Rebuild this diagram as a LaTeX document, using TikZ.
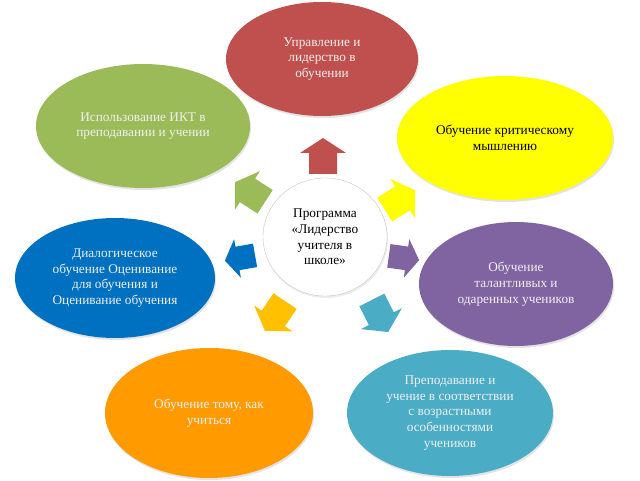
\documentclass[tikz,border=0pt]{standalone}
\usepackage{fontspec}
\setmainfont{Liberation Serif}
\usetikzlibrary{shapes.geometric,shadows}
\definecolor{leadred}{HTML}{C0504D}
\definecolor{ictgreen}{HTML}{9BBB59}
\definecolor{crityellow}{HTML}{FFFF00}
\definecolor{dialogblue}{HTML}{0070C0}
\definecolor{giftpurple}{HTML}{8064A2}
\definecolor{learnorange}{HTML}{FF9A00}
\definecolor{learngold}{HTML}{FFC000}
\definecolor{ageteal}{HTML}{4BACC6}
\tikzset{
    topic font/.style={font=\fontsize{13.3}{15.8}\selectfont},
    topic ellipse/.style={
        ellipse,
        inner sep=0pt,
        outer sep=0pt,
        align=center,
        text=white!94!black,
        topic font,
        drop shadow={opacity=.22,shadow xshift=1pt,shadow yshift=-2pt}
    },
    hub circle/.style={
        ellipse,
        draw=black!22,
        fill=white,
        inner sep=0pt,
        align=center,
        topic font,
        minimum width=124pt,
        minimum height=118pt,
        drop shadow={opacity=.15,shadow xshift=1pt,shadow yshift=-2pt}
    },
    pics/block arrow/.style={
        code={\fill[#1](-18,-14)--(3,-14)--(3,-23)--(18,0)--(3,23)--(3,14)
            --(-18,14)--cycle;}
    }
}
% #1 name, #2 centre, #3 width, #4 height, #5 looks, #6 text
\newcommand{\Topic}[6]{%
\node[topic ellipse,#5,minimum width=#3pt,minimum height=#4pt]
    (#1) at (#2) {#6};
}

\begin{document}
\begin{tikzpicture}[x=1pt,y=1pt]
    \useasboundingbox (0,0) rectangle (640,480);
    \Topic{lead}{322,421}{192}{114}{fill=leadred}{Управление и\\лидерство в\\обучении}
    \Topic{ict}{143,354}{214}{124}{fill=ictgreen}{Использование ИКТ в\\преподавании и учении}
    \Topic{crit}{505,342}{216}{124}{fill=crityellow,text=black}{Обучение критическому\\мышлению}
    \Topic{dialog}{115,202}{200}{120}{fill=dialogblue}{Диалогическое\\обучение Оценивание\\для обучения и\\Оценивание обучения}
    \Topic{gift}{516,196}{194}{124}{fill=giftpurple}{Обучение\\талантливых и\\одаренных учеников}
    \Topic{learn}{209,67}{208}{130}{fill=learnorange}{Обучение тому, как\\учиться}
    \Topic{age}{450,67}{206}{126}{fill=ageteal}{Преподавание и\\учение в соответствии\\с возрастными\\особенностями\\учеников}
    \node[hub circle] (hub) at (325,243) {Программа\\«Лидерство\\учителя в\\школе»};
    % arrows from the hub
    \pic[rotate=90] at (323,324) {block arrow=leadred};
    \pic[rotate=147] at (250,288) {block arrow=ictgreen};
    \pic[rotate=32] at (400,280) {block arrow=crityellow};
    \pic[rotate=190,scale=.85] at (240,222) {block arrow=dialogblue};
    \pic[rotate=-8,scale=.85] at (404,222) {block arrow=giftpurple};
    \pic[rotate=236] at (275,164) {block arrow=learngold};
    \pic[rotate=-63] at (380,164) {block arrow=ageteal};
\end{tikzpicture}
\end{document}
